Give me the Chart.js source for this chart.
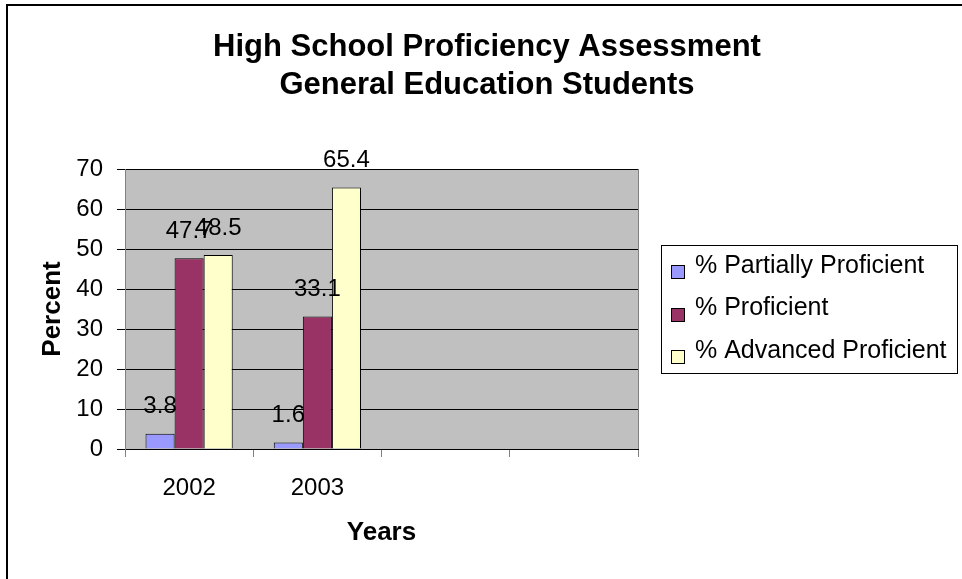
<!DOCTYPE html>
<html><head><meta charset="utf-8">
<script src="https://cdn.jsdelivr.net/npm/chart.js@4.4.1/dist/chart.umd.min.js"></script>
<style>html,body{margin:0;padding:0;background:#fff;}canvas{display:block;}</style>
</head><body>
<canvas id="c" width="962" height="579"></canvas>
<script>
const categories = ['2002', '2003', '', ''];
const partiallyProficient = [3.8, 1.6, null, null];
const proficient = [47.7, 33.1, null, null];
const advancedProficient = [48.5, 65.4, null, null];
const seriesNames = ['% Partially Proficient', '% Proficient', '% Advanced Proficient'];
const yTicks = [0, 10, 20, 30, 40, 50, 60, 70];
const titleLines = ['High School Proficiency Assessment', 'General Education Students'];
const xTitle = 'Years';
const yTitle = 'Percent';

const FONT = "'Liberation Sans', Arial, Helvetica, sans-serif";
const seriesColors = ['#9999FF', '#993366', '#FFFFCC'];

const framePlugin = {
  id: 'frame',
  beforeDraw(chart) {
    const {ctx, chartArea: a} = chart;
    ctx.save();
    ctx.fillStyle = '#fff';
    ctx.fillRect(0, 0, chart.width, chart.height);
    ctx.strokeStyle = '#000';
    ctx.lineWidth = 2;
    ctx.strokeRect(7, 5, 970, 620);
    ctx.fillStyle = '#C0C0C0';
    ctx.fillRect(a.left, a.top, a.right - a.left, a.bottom - a.top);
    ctx.strokeStyle = '#808080';
    ctx.lineWidth = 1;
    ctx.strokeRect(a.left + 0.5, a.top + 0.5, a.right - a.left, a.bottom - a.top);
    ctx.restore();
  }
};

const valueLabelPlugin = {
  id: 'valueLabels',
  afterDatasetsDraw(chart) {
    const ctx = chart.ctx;
    ctx.save();
    ctx.font = '24px ' + FONT;
    ctx.fillStyle = '#000';
    ctx.textAlign = 'center';
    ctx.textBaseline = 'middle';
    chart.data.datasets.forEach((ds, di) => {
      const meta = chart.getDatasetMeta(di);
      meta.data.forEach((bar, i) => {
        const v = ds.data[i];
        if (v === null || v === undefined) return;
        ctx.fillText(String(v), bar.x, bar.y - 27);
      });
    });
    ctx.restore();
  }
};

const headingLegendPlugin = {
  id: 'headingLegend',
  afterDraw(chart) {
    const ctx = chart.ctx;
    ctx.save();
    ctx.fillStyle = '#000';
    ctx.textAlign = 'center';
    ctx.textBaseline = 'middle';
    ctx.font = 'bold 31px ' + FONT;
    titleLines.forEach((t, i) => ctx.fillText(t, 487, 47 + i * 38));

    // legend box
    ctx.strokeStyle = '#000';
    ctx.lineWidth = 1;
    ctx.strokeRect(661.5, 245.5, 296, 128);
    ctx.font = '25px ' + FONT;
    ctx.textAlign = 'left';
    chart.data.datasets.forEach((ds, i) => {
      const cy = 266 + i * 42.5;
      const top = Math.round(cy) - 1;
      ctx.fillStyle = ds.backgroundColor;
      ctx.fillRect(671, top, 14, 14);
      ctx.strokeStyle = '#000';
      ctx.strokeRect(671.5, top + 0.5, 13, 13);
      ctx.fillStyle = '#000';
      ctx.fillText(ds.label, 695, cy);
    });
    ctx.restore();
  }
};

new Chart(document.getElementById('c'), {
  type: 'bar',
  data: {
    labels: categories,
    datasets: [
      {label: seriesNames[0], data: partiallyProficient, backgroundColor: seriesColors[0], borderColor: '#000', borderWidth: 1},
      {label: seriesNames[1], data: proficient, backgroundColor: seriesColors[1], borderColor: '#000', borderWidth: 1},
      {label: seriesNames[2], data: advancedProficient, backgroundColor: seriesColors[2], borderColor: '#000', borderWidth: 1}
    ]
  },
  options: {
    responsive: false,
    animation: false,
    devicePixelRatio: 1,
    layout: {padding: {left: 10, top: 169, right: 324, bottom: 0}},
    datasets: {bar: {categoryPercentage: 0.68, barPercentage: 1}},
    plugins: {
      legend: {display: false},
      title: {display: false},
      tooltip: {enabled: false}
    },
    scales: {
      x: {
        grid: {display: true, drawOnChartArea: false, drawTicks: true, tickLength: 8, color: '#808080', offset: true},
        border: {display: true, color: '#000'},
        ticks: {font: {family: FONT, size: 24}, color: '#000', padding: 17, maxRotation: 0, autoSkip: false},
        title: {display: true, text: xTitle, color: '#000', font: {family: FONT, size: 26, weight: 'bold'}, padding: {top: 0, bottom: 31}},
        afterFit(s) { s.height = 130; }
      },
      y: {
        min: 0,
        max: 70,
        ticks: {stepSize: 10, font: {family: FONT, size: 24}, color: '#000', padding: 14},
        grid: {color: '#000', tickLength: 8, drawTicks: true},
        border: {display: true, color: '#808080'},
        title: {display: true, text: yTitle, color: '#000', font: {family: FONT, size: 26, weight: 'bold'}, padding: {top: 27, bottom: 0}},
        afterBuildTicks(s) { s.ticks = yTicks.map(v => ({value: v})); },
        afterFit(s) { s.width = 115; }
      }
    }
  },
  plugins: [framePlugin, valueLabelPlugin, headingLegendPlugin]
});
</script>
</body></html>
